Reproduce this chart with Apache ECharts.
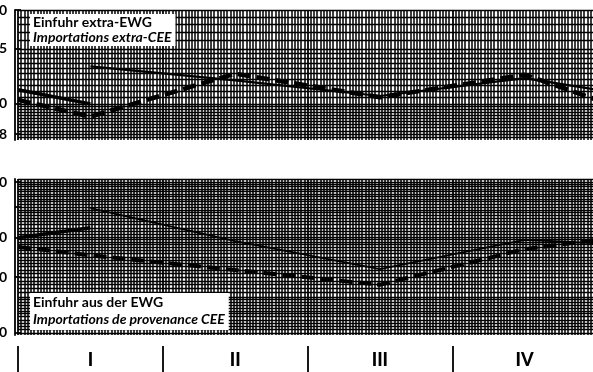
<!DOCTYPE html>
<html>
<head>
<meta charset="utf-8">
<script src="https://cdn.jsdelivr.net/npm/echarts@6.0.0/dist/echarts.min.js"></script>
<style>
  html, body { margin: 0; padding: 0; background: #fff; }
  #main { width: 593px; height: 372px; }
</style>
</head>
<body>
<div id="main"></div>
<script>
// Quarter labels along the bottom strip
var quarters = ['I', 'II', 'III', 'IV']

// x positions in months: left edge, quarter midpoints, right edge
var xEdgeLeft = 0
var xMid = [1.5, 4.5, 7.5, 10.5]
var xEdgeRight = 12

// Einfuhr extra-EWG (upper panel)
var extraPrev = [11.1, 10.0]                    // left edge, Q I  (older series)
var extraSolid = [13.2, 11.9, 10.6, 12.1, 11.1] // Q I..IV, right edge
var extraDashed = [10.3, 9.1, 12.5, 10.5, 12.4, 10.3] // left edge, Q I..IV, right edge
var extraTicks = [20, 15, 10, 8]

// Einfuhr aus der EWG (lower panel)
var intraPrev = [200, 215]
var intraSolid = [248, 195, 159, 197, 192]
var intraDashed = [187, 176, 158, 142, 184, 197]
var intraTicks = [300, 250, 200, 150, 100]
var intraLabels = [300, 200, 150, 100]

function pairs(xs, ys) {
  return ys.map(function (v, i) { return [xs[i], v] })
}

// graph-paper rulings (style only)
function ruling(parts) {
  var out = []
  parts.forEach(function (p) {
    var n = Math.round((p[1] - p[0]) / p[2])
    for (var k = 0; k <= n; k++) out.push(+(p[0] + k * p[2]).toFixed(3))
  })
  return out
}
var extraPaper = ruling([[7.8, 10, 0.2], [10.5, 15, 0.5], [16, 20, 1]])
var intraPaper = ruling([[100, 130, 2.5], [134, 198, 4], [200, 305, 5]])

var ink = '#000'
var labelFont = { fontFamily: 'Lato', fontWeight: 'bold', fontSize: 14, color: ink }

function monthAxis(gridIndex) {
  return {
    gridIndex: gridIndex,
    type: 'value',
    min: 0,
    max: 12,
    interval: 3,
    axisLine: { show: false },
    axisTick: { show: false },
    axisLabel: { show: false },
    splitLine: { show: true, lineStyle: { color: ink, width: 1.8 } },
    minorTick: { show: false, splitNumber: 45 },
    minorSplitLine: { show: true, lineStyle: { color: ink, width: 1.5 } }
  }
}

function valueAxis(gridIndex, min, max, ticks, labels) {
  return {
    gridIndex: gridIndex,
    type: 'log',
    logBase: 10,
    min: min,
    max: max,
    offset: 3,
    axisLine: { show: true, onZero: false, lineStyle: { color: ink, width: 1.8 } },
    axisTick: { show: true, inside: true, length: 6, customValues: ticks, lineStyle: { color: ink, width: 1.8 } },
    axisLabel: Object.assign({ margin: 8, customValues: labels }, labelFont),
    splitLine: { show: false }
  }
}

function paperAxis(gridIndex, min, max, values) {
  return {
    gridIndex: gridIndex,
    type: 'log',
    logBase: 10,
    min: min,
    max: max,
    axisLine: { show: false },
    axisTick: { show: false, customValues: values },
    axisLabel: { show: false },
    splitLine: { show: true, lineStyle: { color: ink, width: 1.4 } }
  }
}

function line(xi, yi, data, width, dashed) {
  return {
    type: 'line',
    xAxisIndex: xi,
    yAxisIndex: yi,
    data: data,
    symbol: 'none',
    silent: true,
    z: 5,
    lineStyle: { color: ink, width: width, type: dashed ? [13, 6] : 'solid', cap: 'butt' }
  }
}

var xAll = [xEdgeLeft].concat(xMid, [xEdgeRight])
var xFromMid = xMid.concat([xEdgeRight])

var chart = echarts.init(document.getElementById('main'))
chart.setOption({
  animation: false,
  backgroundColor: '#fff',
  title: [{
    text: 'Einfuhr extra-EWG',
    subtext: 'Importations extra-CEE',
    left: 30,
    top: 14,
    padding: [1, 4, 1, 3],
    itemGap: 0,
    backgroundColor: '#fff',
    z: 10,
    textStyle: { fontFamily: 'Lato', fontWeight: 'bold', fontSize: 14, lineHeight: 15, color: ink },
    subtextStyle: { fontFamily: 'Lato', fontWeight: 'bold', fontStyle: 'italic', fontSize: 14, lineHeight: 15, color: ink }
  }, {
    text: 'Einfuhr aus der EWG',
    subtext: 'Importations de provenance CEE',
    left: 30,
    top: 293,
    padding: [1, 4, 3, 3],
    itemGap: 1,
    backgroundColor: '#fff',
    z: 10,
    textStyle: { fontFamily: 'Lato', fontWeight: 'bold', fontSize: 14, lineHeight: 16, color: ink },
    subtextStyle: { fontFamily: 'Lato', fontWeight: 'bold', fontStyle: 'italic', fontSize: 14, lineHeight: 16, color: ink }
  }],
  grid: [
    { left: 18, right: -4, top: 10, height: 130, outerBoundsMode: 'none' },
    { left: 18, right: -4, top: 179, height: 156, outerBoundsMode: 'none' },
    { left: 18, right: -4, top: 346, height: 40, outerBoundsMode: 'none' }
  ],
  xAxis: [
    monthAxis(0),
    monthAxis(1),
    {
      gridIndex: 2,
      type: 'category',
      position: 'top',
      data: quarters,
      axisLine: { show: true, lineStyle: { color: ink, width: 2 } },
      axisTick: { show: false },
      axisLabel: { inside: true, margin: 5, fontFamily: 'Lato', fontWeight: 900, fontSize: 18, color: ink },
      splitLine: { show: true, lineStyle: { color: ink, width: 1.8 } }
    }
  ],
  yAxis: [
    valueAxis(0, 7.66, 20, extraTicks, extraTicks),
    paperAxis(0, 7.66, 20, extraPaper),
    valueAxis(1, 98.5, 306.6, intraTicks, intraLabels),
    paperAxis(1, 98.5, 306.6, intraPaper),
    { gridIndex: 2, type: 'value', show: false }
  ],
  series: [
    line(0, 0, pairs([xEdgeLeft, xMid[0]], extraPrev), 3.5, false),
    line(0, 0, pairs(xFromMid, extraSolid), 2.2, false),
    line(0, 0, pairs(xAll, extraDashed), 4.5, true),
    line(1, 2, pairs([xEdgeLeft, xMid[0]], intraPrev), 3.5, false),
    line(1, 2, pairs(xFromMid, intraSolid), 1.8, false),
    line(1, 2, pairs(xAll, intraDashed), 4, true)
  ]
})
</script>
</body>
</html>
